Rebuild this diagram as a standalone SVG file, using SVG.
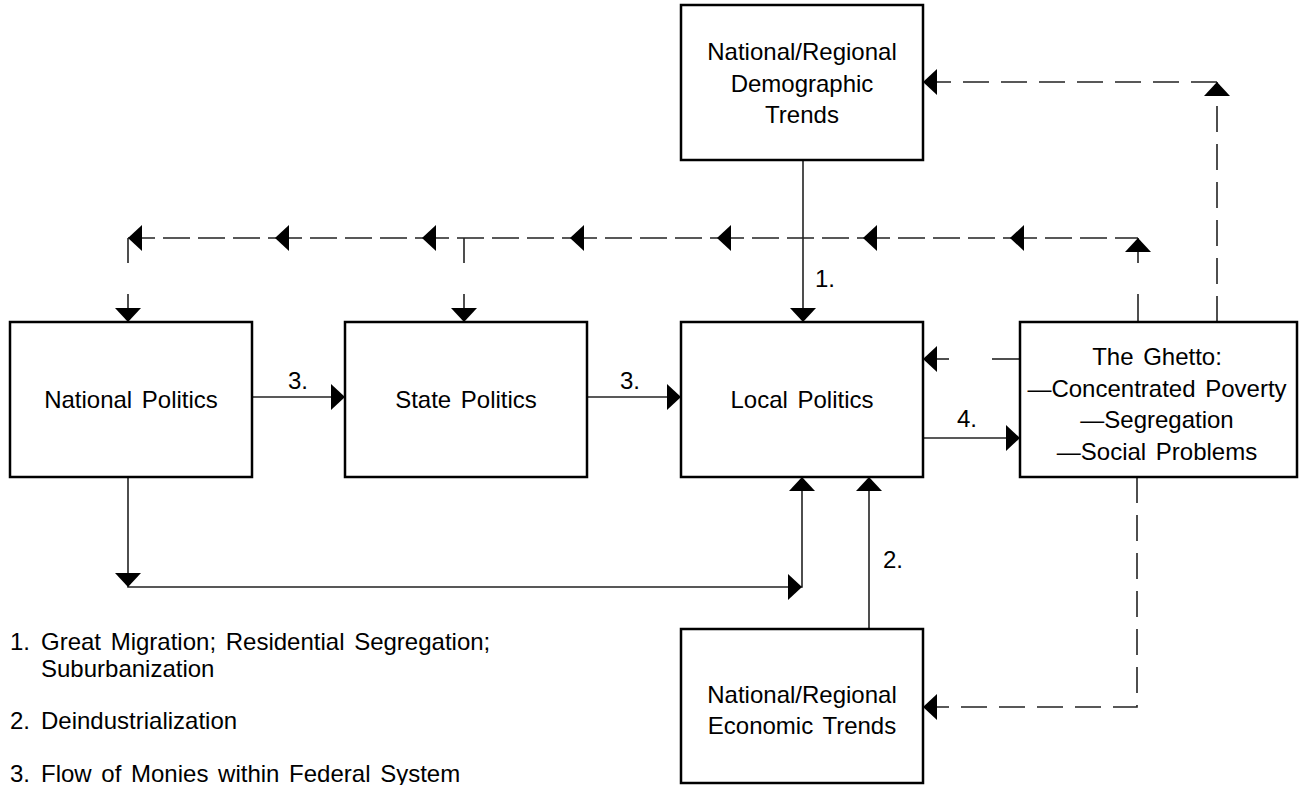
<svg xmlns="http://www.w3.org/2000/svg" xmlns:xlink="http://www.w3.org/1999/xlink" width="1300" height="785" viewBox="0 0 1300 785">
<style>
.box{fill:#fff;stroke:#000;stroke-width:2.5}
.t{font-family:"Liberation Sans",Arial,Helvetica,sans-serif;font-size:24px;fill:#000;word-spacing:3px}
.c{text-anchor:middle}
.ln{stroke:#222;stroke-width:1.6;fill:none}
.d1{stroke:#222;stroke-width:1.6;fill:none;stroke-dasharray:27 8}
.d2{stroke:#222;stroke-width:1.6;fill:none;stroke-dasharray:26 12}
.ah{fill:#000}
</style>
<defs>
<path id="aL" class="ah" d="M0,0 L14,-13 L14,13 Z"/>
<path id="aR" class="ah" d="M0,0 L-14,-13 L-14,13 Z"/>
<path id="aU" class="ah" d="M0,0 L-13,14 L13,14 Z"/>
<path id="aD" class="ah" d="M0,0 L-13,-14 L13,-14 Z"/>
</defs>
<rect width="1300" height="785" fill="#fff"/>

<g id="connectors">
  <!-- top dashed feedback line -->
  <line class="d1" x1="128" y1="238" x2="275" y2="238"/>
  <line class="d1" x1="275" y1="238" x2="422" y2="238"/>
  <line class="d1" x1="422" y1="238" x2="570" y2="238"/>
  <line class="d1" x1="570" y1="238" x2="717" y2="238"/>
  <line class="d1" x1="717" y1="238" x2="863" y2="238"/>
  <line class="d1" x1="863" y1="238" x2="1010" y2="238"/>
  <line class="d1" x1="1010" y1="238" x2="1138" y2="238"/>
  <use xlink:href="#aL" x="128" y="238"/>
  <use xlink:href="#aL" x="275" y="238"/>
  <use xlink:href="#aL" x="422" y="238"/>
  <use xlink:href="#aL" x="570" y="238"/>
  <use xlink:href="#aL" x="717" y="238"/>
  <use xlink:href="#aL" x="863" y="238"/>
  <use xlink:href="#aL" x="1010" y="238"/>
  <!-- verticals down from dashed line -->
  <line class="ln" x1="128" y1="238" x2="128" y2="263"/>
  <line class="ln" x1="128" y1="294" x2="128" y2="322"/>
  <use xlink:href="#aD" x="128" y="322"/>
  <line class="ln" x1="464" y1="238" x2="464" y2="263"/>
  <line class="ln" x1="464" y1="294" x2="464" y2="322"/>
  <use xlink:href="#aD" x="464" y="322"/>
  <!-- ghetto up to top dashed line -->
  <line class="ln" x1="1138" y1="238" x2="1138" y2="263"/>
  <line class="ln" x1="1138" y1="294" x2="1138" y2="322"/>
  <use xlink:href="#aU" x="1138" y="238"/>
  <!-- ghetto to demographic -->
  <path class="d2" d="M1217,322 L1217,82"/>
  <path class="d2" d="M1217,82 L923,82"/>
  <use xlink:href="#aU" x="1217" y="82"/>
  <use xlink:href="#aL" x="923" y="82"/>
  <!-- ghetto to economic -->
  <path class="d2" d="M1137,477 L1137,707 L923,707"/>
  <use xlink:href="#aL" x="923" y="707"/>
  <!-- ghetto to local (dashed, two pieces) -->
  <line class="ln" x1="1020" y1="359" x2="992" y2="359"/>
  <line class="ln" x1="949" y1="359" x2="923" y2="359"/>
  <use xlink:href="#aL" x="923" y="359"/>
  <!-- demographic to local -->
  <line class="ln" x1="803" y1="160" x2="803" y2="322"/>
  <use xlink:href="#aD" x="803" y="322"/>
  <!-- national to state, state to local -->
  <line class="ln" x1="252" y1="397" x2="345" y2="397"/>
  <use xlink:href="#aR" x="345" y="397"/>
  <line class="ln" x1="587" y1="397" x2="681" y2="397"/>
  <use xlink:href="#aR" x="681" y="397"/>
  <!-- local to ghetto -->
  <line class="ln" x1="923" y1="438" x2="1020" y2="438"/>
  <use xlink:href="#aR" x="1020" y="438"/>
  <!-- national down, across, up to local -->
  <path class="ln" d="M128,477 L128,587 L802,587 L802,477"/>
  <use xlink:href="#aD" x="128" y="587"/>
  <use xlink:href="#aR" x="802" y="587"/>
  <use xlink:href="#aU" x="802" y="477"/>
  <!-- economic to local -->
  <line class="ln" x1="869" y1="629" x2="869" y2="477"/>
  <use xlink:href="#aU" x="869" y="477"/>
  <!-- labels -->
  <text class="t" x="815" y="287">1.</text>
  <text class="t" x="883" y="568">2.</text>
  <text class="t c" x="298" y="389">3.</text>
  <text class="t c" x="630" y="389">3.</text>
  <text class="t" x="957" y="427">4.</text>
</g>

<g id="demographic">
  <rect class="box" x="681" y="5" width="242" height="155"/>
  <text class="t c" x="802" y="60">National/Regional</text>
  <text class="t c" x="802" y="92">Demographic</text>
  <text class="t c" x="802" y="123">Trends</text>
</g>
<g id="national">
  <rect class="box" x="10" y="322" width="242" height="155"/>
  <text class="t c" x="131" y="408">National Politics</text>
</g>
<g id="state">
  <rect class="box" x="345" y="322" width="242" height="155"/>
  <text class="t c" x="466" y="408">State Politics</text>
</g>
<g id="local">
  <rect class="box" x="681" y="322" width="242" height="155"/>
  <text class="t c" x="802" y="408">Local Politics</text>
</g>
<g id="ghetto">
  <rect class="box" x="1020" y="322" width="277" height="155"/>
  <text class="t c" x="1157" y="365">The Ghetto:</text>
  <text class="t c" x="1157" y="397">—Concentrated Poverty</text>
  <text class="t c" x="1157" y="428">—Segregation</text>
  <text class="t c" x="1157" y="460">—Social Problems</text>
</g>
<g id="economic">
  <rect class="box" x="681" y="629" width="242" height="154"/>
  <text class="t c" x="802" y="703">National/Regional</text>
  <text class="t c" x="802" y="734">Economic Trends</text>
</g>
<g id="legend">
  <text class="t" x="10" y="650">1.</text>
  <text class="t" x="41" y="650">Great Migration; Residential Segregation;</text>
  <text class="t" x="41" y="677">Suburbanization</text>
  <text class="t" x="10" y="729">2.</text>
  <text class="t" x="41" y="729">Deindustrialization</text>
  <text class="t" x="10" y="782">3.</text>
  <text class="t" x="41" y="782">Flow of Monies within Federal System</text>
</g>
</svg>
